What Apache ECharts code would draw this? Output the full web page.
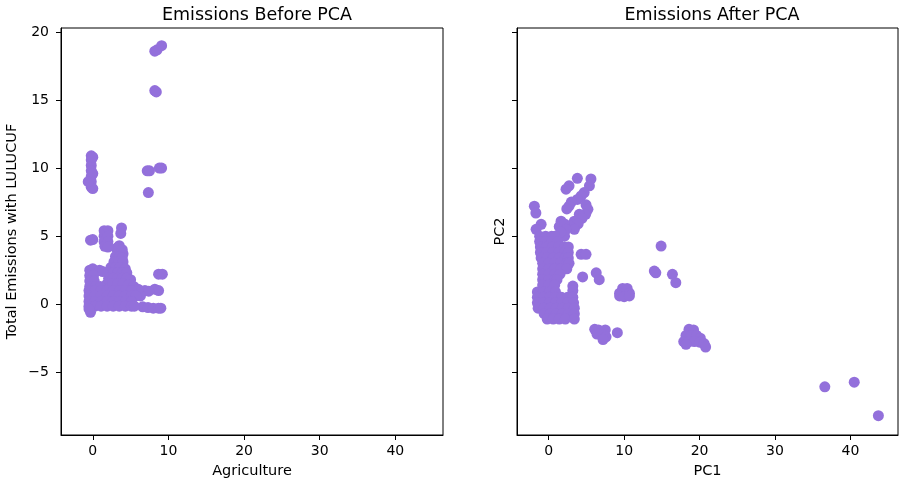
<!DOCTYPE html>
<html><head><meta charset="utf-8">
<script src="https://cdn.jsdelivr.net/npm/echarts@6/dist/echarts.min.js"></script>
<style>html,body{margin:0;padding:0;background:#fff}#c{width:899px;height:484px}</style>
</head><body><div id="c"></div>
<script>
const xTicks = [0, 10, 20, 30, 40];
const yTicks = [-5, 0, 5, 10, 15, 20];
const titles = ['Emissions Before PCA', 'Emissions After PCA'];
const xNames = ['Agriculture', 'PC1'];
const yNames = ['Total Emissions with LULUCUF', 'PC2'];

// ---- Before PCA (Agriculture vs Total Emissions with LULUCUF) ----
const beforeOutliers = [[8.2,18.6],[8.5,18.7],[9.1,19.0],[8.2,15.7],[8.4,15.6],[7.2,9.8],[7.5,9.8],[8.8,10.0],[9.1,10.0],[7.35,8.2],
  [8.7,2.2],[9.2,2.2],[8.2,1.1],[8.7,1.0],[6.9,1.0],[7.4,0.95],[6.3,0.6],[6.6,-0.2],[7.3,-0.25],[8.0,-0.3],[8.7,-0.3],[9.0,-0.3]];
const beforeBar = [[-0.2,10.9],[-0.2,10.6],[-0.2,10.2],[-0.2,9.8],[-0.2,9.4],[-0.2,9.0],[-0.2,8.6],[0.0,10.8],[0.0,9.6],[0.0,8.5],[-0.6,9.0]];
const beforeUpper = [[3.8,5.6],[3.7,5.2],[3.5,4.3],[3.1,4.1],[3.9,4.0],[4.0,3.7],[3.0,3.5],[3.5,3.5],[3.9,3.4],
  [2.8,3.1],[3.4,3.1],[4.0,3.1],[2.4,2.7],[3.0,2.7],[3.6,2.7],[4.3,2.6],
  [2.1,2.3],[2.7,2.3],[3.3,2.3],[3.9,2.3],[4.5,2.3],[2.1,1.9],[2.7,1.9],[3.3,1.9],[3.9,1.9],[4.5,1.9],[5.0,1.8],
  [1.9,1.5],[2.6,1.5],[3.3,1.5],[4.0,1.5],[4.7,1.4],[5.4,1.3],[6.0,1.1],
  [-0.4,2.5],[0.0,2.6],[0.9,2.5],[1.3,2.4],[-0.4,2.1],[0.1,2.1],[-0.4,1.7],[0.2,1.7],[-0.4,1.3],[0.4,1.3],[1.0,1.3],
  [1.5,5.4],[2.0,5.4],[1.5,5.0],[2.0,5.0],[1.5,4.6],[2.0,4.6],[1.6,4.25],[2.0,4.2],[-0.3,4.7],[0.0,4.75]];
const beforeBlock = [[-0.5,1.0],[0.3,1.0],[1.1,1.0],[1.9,1.0],[2.7,1.0],[3.5,1.0],[4.3,1.0],[5.1,1.0],
  [-0.5,0.6],[0.3,0.6],[1.1,0.6],[1.9,0.6],[2.7,0.6],[3.5,0.6],[4.3,0.6],[5.1,0.6],[5.7,0.6],
  [-0.5,0.2],[0.3,0.2],[1.1,0.2],[1.9,0.2],[2.7,0.2],[3.5,0.2],[4.3,0.2],[5.1,0.2],
  [-0.5,-0.15],[0.3,-0.15],[1.1,-0.15],[1.9,-0.15],[2.7,-0.15],[3.5,-0.15],[4.3,-0.15],[5.1,-0.15],[5.5,-0.15],
  [-0.3,-0.6],[-0.5,-0.35]];

// ---- After PCA (PC1 vs PC2) ----
const afterUpper = [[3.8,9.25],[5.6,9.2],[5.4,8.7],[2.7,8.7],[2.3,8.45],[4.7,8.2],[4.3,7.95],[3.8,7.7],[3.0,7.5],
  [-1.9,7.2],[-1.7,6.7],[2.7,7.2],[2.4,7.0],[4.95,7.3],[5.2,6.97],[4.9,6.6],[4.06,6.6],[4.4,6.3],[3.4,6.1],[3.9,5.9],
  [2.74,5.74],[3.4,5.5],[1.64,6.1],[1.4,5.7],[2.1,5.9],[-1.0,5.87],[-1.67,5.5],[2.1,5.0],[2.3,5.5],[1.6,5.3]];
const afterMain = [[-1.2,5.0],[-0.4,5.0],[0.4,5.0],[0.8,5.0],
  [-1.2,4.6],[-0.4,4.6],[0.4,4.6],[1.2,4.6],
  [-1.1,4.2],[-0.3,4.2],[0.5,4.2],[1.3,4.2],[2.1,4.2],[2.6,4.2],
  [-1.1,3.8],[-0.3,3.8],[0.5,3.8],[1.3,3.8],[2.1,3.8],[2.6,3.8],
  [-1.0,3.4],[-0.2,3.4],[0.6,3.4],[1.4,3.4],[2.2,3.4],[2.6,3.4],
  [-0.8,3.0],[0.0,3.0],[0.8,3.0],[1.6,3.0],[2.4,3.0],[2.7,3.0],
  [-0.8,2.6],[0.0,2.6],[0.8,2.6],[1.6,2.6],[2.4,2.6],
  [-0.8,2.2],[0.0,2.2],[0.8,2.2],[1.5,2.2],
  [-0.8,1.8],[0.0,1.8],[0.8,1.8],[1.1,1.8],
  [-0.8,1.4],[0.0,1.4],[0.8,1.4],
  [4.3,3.66],[4.95,3.66],[4.5,2.0],[3.2,1.33],[6.3,2.3],[6.7,1.8]];
const afterLower = [[-1.5,0.9],[-0.7,0.9],[0.1,0.9],[0.9,0.9],[3.2,1.0],
  [-1.5,0.5],[-0.7,0.5],[0.1,0.5],[0.9,0.5],[1.7,0.5],[2.5,0.5],[3.2,0.5],
  [-1.5,0.1],[-0.7,0.1],[0.1,0.1],[0.9,0.1],[1.7,0.1],[2.5,0.1],[3.3,0.1],
  [-1.4,-0.3],[-0.6,-0.3],[0.2,-0.3],[1.0,-0.3],[1.8,-0.3],[2.6,-0.3],[3.4,-0.3],
  [-0.6,-0.7],[0.2,-0.7],[1.0,-0.7],[1.8,-0.7],[2.6,-0.7],[3.4,-0.7],
  [-0.2,-1.1],[0.6,-1.1],[1.4,-1.1],[2.2,-1.1],[3.4,-1.1]];
const afterClusters = [[9.8,1.15],[10.4,1.15],[9.4,0.8],[10.0,0.8],[10.7,0.8],[9.4,0.6],[10.0,0.55],[10.7,0.6],
  [6.1,-1.85],[6.6,-1.9],[7.5,-1.9],[7.0,-2.2],[6.4,-2.2],[7.6,-2.4],[7.2,-2.6],[9.1,-2.1],
  [18.6,-1.85],[19.2,-1.9],[18.2,-2.3],[18.9,-2.3],[19.6,-2.3],[20.1,-2.5],[17.9,-2.75],[18.6,-2.75],[19.3,-2.75],
  [20.0,-2.8],[20.6,-2.9],[20.8,-3.15],[18.2,-2.95],
  [14.9,4.27],[14.0,2.43],[14.2,2.3],[16.4,2.19],[16.85,1.58]];
const afterFar = [[36.6,-6.08],[40.5,-5.74],[43.7,-8.2]];

const beforeData = [].concat(beforeOutliers, beforeBar, beforeUpper, beforeBlock);
const afterData = [].concat(afterUpper, afterMain, afterLower, afterClusters, afterFar);

const FONT = 'DejaVu Sans';
const fmt = v => (v < 0 ? '\u2212' + Math.abs(v) : String(v));
const grids = [
  {left: 61, top: 28, width: 382, height: 407},
  {left: 517, top: 28, width: 381, height: 407}
];
function xAxis(i) {
  return {
    type: 'value', gridIndex: i, min: -4.2, max: 46.3, position: 'bottom',
    name: xNames[i], nameLocation: 'middle', nameGap: 29,
    nameTextStyle: {fontFamily: FONT, fontSize: 14.5, color: '#000'},
    axisLine: {show: true, onZero: false, lineStyle: {color: '#000', width: 1}},
    splitLine: {show: false},
    axisTick: {show: true, inside: false, length: 5, lineStyle: {color: '#000', width: 1}, customValues: xTicks},
    axisLabel: {show: true, margin: 9, fontFamily: FONT, fontSize: 14, color: '#000', formatter: fmt, customValues: xTicks}
  };
}
function yAxis(i) {
  return {
    type: 'value', gridIndex: i, min: -9.62, max: 20.3, position: 'left',
    name: yNames[i], nameLocation: 'middle', nameGap: i === 0 ? 41 : 9, nameRotate: 90,
    nameTextStyle: {fontFamily: FONT, fontSize: 14.5, color: '#000'},
    axisLine: {show: true, onZero: false, lineStyle: {color: '#000', width: 1}},
    splitLine: {show: false},
    axisTick: {show: true, inside: false, length: 5, lineStyle: {color: '#000', width: 1}, customValues: yTicks},
    axisLabel: {show: i === 0, margin: 12, fontFamily: FONT, fontSize: 14, color: '#000', formatter: fmt, customValues: yTicks}
  };
}
const chart = echarts.init(document.getElementById('c'), null, {renderer: 'canvas'});
chart.setOption({
  animation: false,
  backgroundColor: '#fff',
  title: [
    {text: titles[0], left: 252, top: 1, textAlign: 'center', textStyle: {fontFamily: FONT, fontSize: 17.5, fontWeight: 'normal', color: '#000'}},
    {text: titles[1], left: 707, top: 1, textAlign: 'center', textStyle: {fontFamily: FONT, fontSize: 17.5, fontWeight: 'normal', color: '#000'}}
  ],
  grid: grids.map(g => Object.assign({show: true, borderColor: '#000', borderWidth: 1, backgroundColor: 'transparent', containLabel: false}, g)),
  xAxis: [xAxis(0), xAxis(1)],
  yAxis: [yAxis(0), yAxis(1)],
  series: [
    {type: 'scatter', xAxisIndex: 0, yAxisIndex: 0, data: beforeData, symbolSize: 11, itemStyle: {color: '#9370DB', opacity: 1}},
    {type: 'scatter', xAxisIndex: 1, yAxisIndex: 1, data: afterData, symbolSize: 11, itemStyle: {color: '#9370DB', opacity: 1}}
  ]
});
</script>
</body></html>
